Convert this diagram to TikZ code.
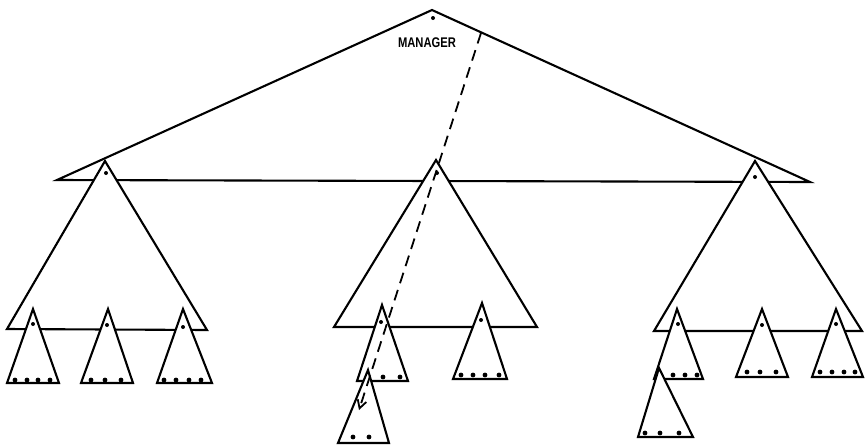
\documentclass[tikz,border=0pt]{standalone}
\usepackage{fontspec}
\setsansfont{Liberation Sans}
\usetikzlibrary{arrows.meta}
\tikzset{
  tri/.style={draw=black, fill=white, line width=2.1pt, line join=miter},
  apexdot/.style={fill=black, circle, inner sep=0pt, minimum size=4pt},
  leafdot/.style={fill=black, circle, inner sep=0pt, minimum size=4.8pt},
  lbl/.style={font=\sffamily\bfseries\fontsize{14}{14}\selectfont, xscale=0.8, inner sep=0pt},
  path/.style={line width=1.8pt, dash pattern=on 11pt off 7pt, -{Straight Barb[length=8pt,width=9pt,line width=1.8pt]}}
}
\newcommand\mytri[4]{% name, apex, base left, base right
  \coordinate (#1-a) at #2;
  \coordinate (#1-l) at #3;
  \coordinate (#1-r) at #4;
  \draw[tri] (#1-a) -- (#1-l) -- (#1-r) -- cycle;
}
\begin{document}
\begin{tikzpicture}[x=1pt,y=-1pt]
\useasboundingbox (0,0) rectangle (866,445);
% top level
\mytri{top}{(432,10)}{(57,180)}{(810,182)}
\node[apexdot] (topdot) at (433,18) {};
\node[lbl] (mgr) at (427,43) {MANAGER};
% middle level
\mytri{ml}{(105,161)}{(7,329)}{(207,330)}
\node[apexdot] (mldot) at (106,173) {};
\mytri{mm}{(436,160)}{(334,327)}{(537,327)}
\node[apexdot] (mmdot) at (437,173) {};
\mytri{mr}{(755,161)}{(654,331)}{(862,331)}
\node[apexdot] (mrdot) at (755,177) {};
% leaves, left group
\mytri{t1}{(33,309)}{(7,383)}{(59,383)}
\node[apexdot] (t1d) at (33,324) {};
\foreach \x [count=\i] in {15,27,38,50} \node[leafdot] (t1b\i) at (\x,380) {};
\mytri{t2}{(108,309)}{(81,383)}{(133,383)}
\node[apexdot] (t2d) at (107,325) {};
\foreach \x [count=\i] in {91,105,121} \node[leafdot] (t2b\i) at (\x,380) {};
\mytri{t3}{(183,309)}{(157,383)}{(212,383)}
\node[apexdot] (t3d) at (183,327) {};
\foreach \x [count=\i] in {164,176,189,201} \node[leafdot] (t3b\i) at (\x,380) {};
% leaves, middle group
\mytri{t4}{(382,305)}{(357,381)}{(408,381)}
\node[apexdot] (t4d) at (381,322) {};
\foreach \x [count=\i] in {383,400} \node[leafdot] (t4b\i) at (\x,377) {};
\mytri{t5}{(368,370)}{(338,443)}{(389,443)}
\foreach \x [count=\i] in {353,369} \node[leafdot] (t5b\i) at (\x,437) {};
\mytri{t6}{(482,303)}{(453,379)}{(507,379)}
\node[apexdot] (t6d) at (481,320) {};
\foreach \x [count=\i] in {461,473,485,499} \node[leafdot] (t6b\i) at (\x,375) {};
% leaves, right group
\mytri{t7}{(677,309)}{(654,379)}{(703,379)}
\node[apexdot] (t7d) at (678,324) {};
\foreach \x [count=\i] in {673,685,697} \node[leafdot] (t7b\i) at (\x,375) {};
\mytri{t8}{(659,368)}{(638,437)}{(693,437)}
\foreach \x [count=\i] in {645,660,679} \node[leafdot] (t8b\i) at (\x,433) {};
\mytri{t9}{(762,309)}{(736,377)}{(788,377)}
\node[apexdot] (t9d) at (762,325) {};
\foreach \x [count=\i] in {747,760,776} \node[leafdot] (t9b\i) at (\x,372) {};
\mytri{t10}{(836,309)}{(812,377)}{(863,377)}
\node[apexdot] (t10d) at (836,324) {};
\foreach \x [count=\i] in {820,832,844,855} \node[leafdot] (t10b\i) at (\x,372) {};
% dashed search path
\coordinate (dstart) at (481,33);
\coordinate (dend) at (359,410);
\draw[path] (dstart) -- (dend);
\end{tikzpicture}
\end{document}
